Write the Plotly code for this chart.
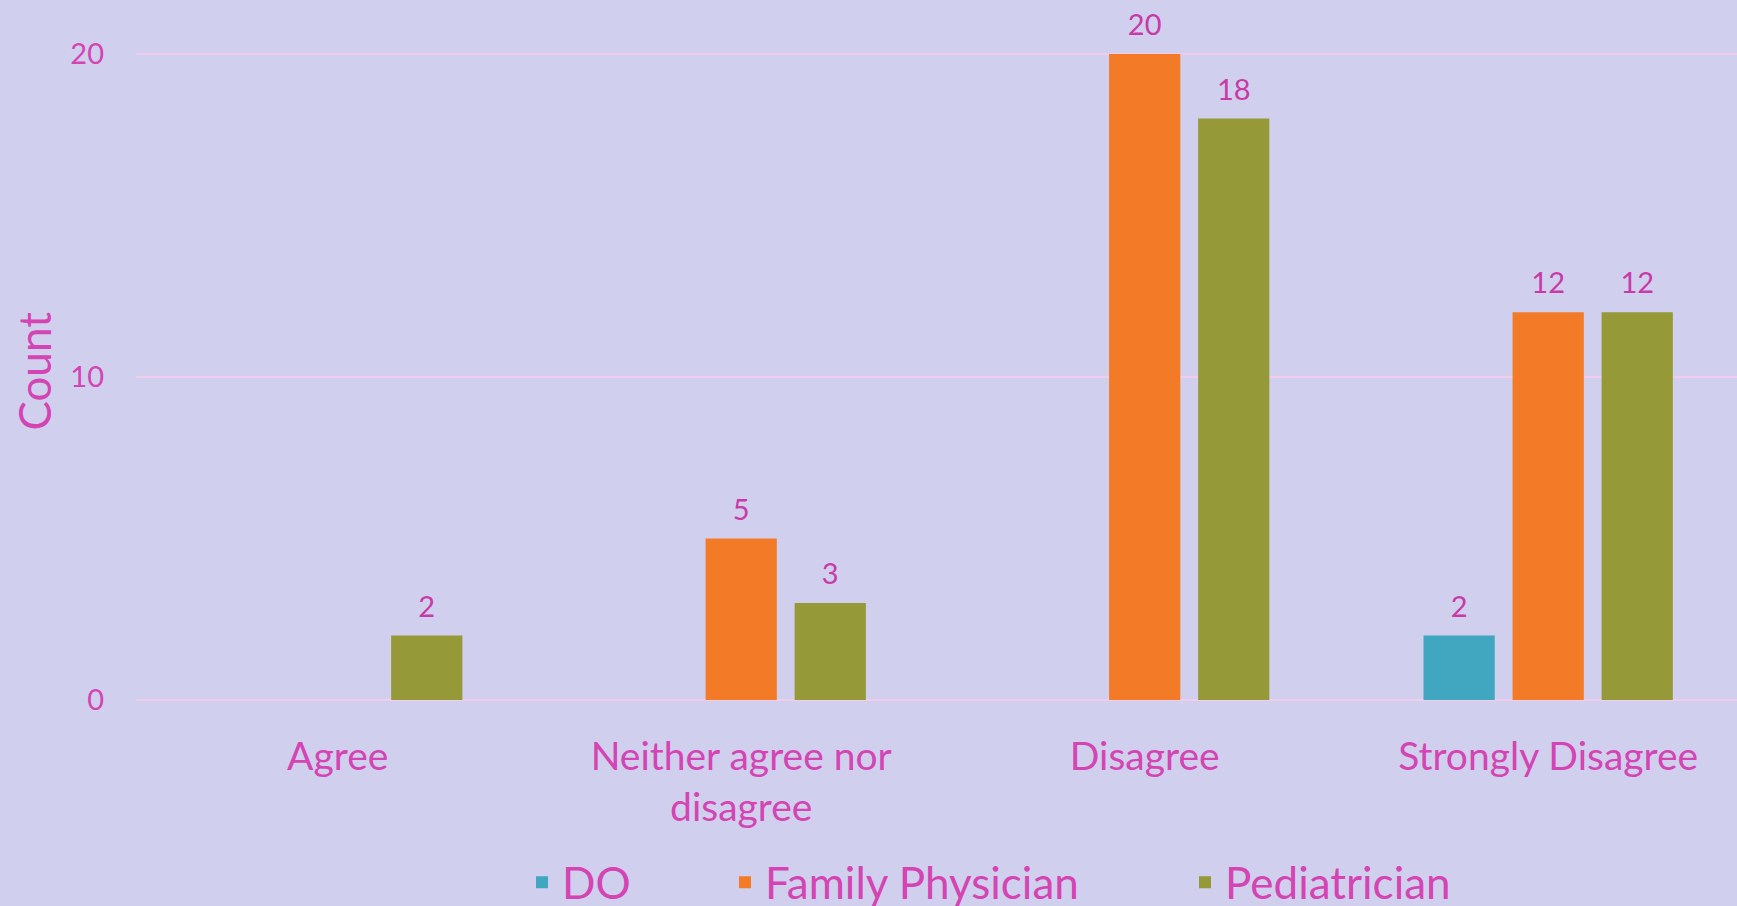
import plotly.graph_objects as go

# survey answers (x categories) and counts per specialty
categories = ["Agree", "Neither agree nor<br>disagree", "Disagree", "Strongly Disagree"]
do_counts = [None, None, None, 2]
family_counts = [None, 5, 20, 12]
pediatric_counts = [2, 3, 18, 12]

text_color = "#D444B3"
bg_color = "#D1CFEE"
grid_color = "#F2CDEB"
font_name = "Lato, Carlito, Calibri, sans-serif"

series = [
    ("DO", do_counts, "#41A6C0", "legend"),
    ("Family Physician", family_counts, "#F37B28", "legend2"),
    ("Pediatrician", pediatric_counts, "#969938", "legend3"),
]

fig = go.Figure()
for name, values, color, legend in series:
    fig.add_trace(go.Bar(
        name=name,
        x=categories,
        y=values,
        legend=legend,
        offsetgroup=name,
        alignmentgroup="all",
        marker=dict(color=color, line=dict(width=0)),
    ))
# value labels: grouped text-only scatter so the gap above the bar can be set
for name, values, color, legend in series:
    fig.add_trace(go.Scatter(
        x=categories,
        y=values,
        mode="markers+text",
        offsetgroup=name,
        alignmentgroup="all",
        marker=dict(size=17, opacity=0),
        text=[str(v) if v is not None else "" for v in values],
        textposition="top center",
        textfont=dict(size=29, color="#C83AA6", family=font_name),
        cliponaxis=False,
        showlegend=False,
        hoverinfo="skip",
    ))


def legend_box(px):
    return dict(
        orientation="h",
        x=(px - 136) / 1601,
        xanchor="left",
        y=-0.261,
        yanchor="middle",
        font=dict(size=44, color=text_color),
        bgcolor="rgba(0,0,0,0)",
    )


fig.update_layout(
    width=1737,
    height=906,
    paper_bgcolor=bg_color,
    plot_bgcolor=bg_color,
    font=dict(family=font_name, color=text_color),
    barmode="group",
    bargap=0.338,
    bargroupgap=0.2,
    scattermode="group",
    scattergap=0.338,
    margin=dict(l=136, r=0, t=0, b=206, autoexpand=False),
    showlegend=True,
    legend=legend_box(522),
    legend2=legend_box(725),
    legend3=legend_box(1185),
    xaxis=dict(
        range=[-0.5, 3.468],
        showgrid=False,
        showline=False,
        tickfont=dict(size=39, color=text_color),
        ticklabelstandoff=30,
    ),
    yaxis=dict(
        range=[0, 21.67],
        tickvals=[0, 10, 20],
        showgrid=True,
        gridcolor=grid_color,
        gridwidth=2,
        zeroline=True,
        zerolinecolor=grid_color,
        zerolinewidth=2,
        tickfont=dict(size=29, color=text_color),
        ticklabelstandoff=31,
    ),
    annotations=[
        dict(
            text="Count",
            textangle=-90,
            xref="paper",
            yref="paper",
            x=-0.064,
            y=0.47,
            xanchor="center",
            yanchor="middle",
            showarrow=False,
            font=dict(size=44, color=text_color),
        )
    ],
)

fig.write_html(
    "out.html",
    config={"displayModeBar": False},
    post_script="document.body.style.margin='0';",
)
